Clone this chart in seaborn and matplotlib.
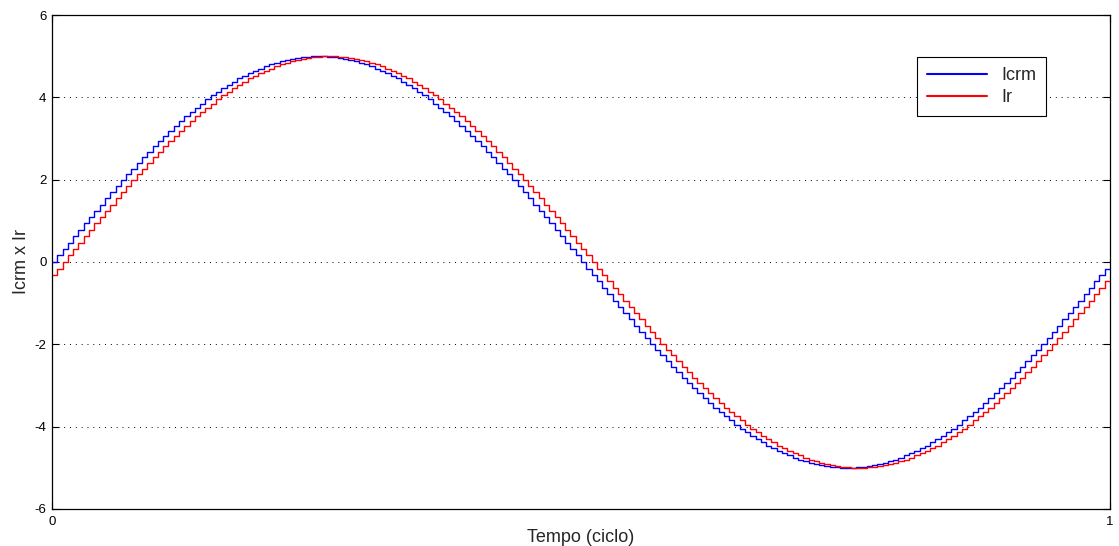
import matplotlib
matplotlib.use("Agg")
import matplotlib.pyplot as plt
import numpy as np
import pandas as pd
import seaborn as sns

# Sampled currents over one cycle (200 samples, zero-order hold)
icrm = [
    0.00, 0.16, 0.31, 0.47, 0.63, 0.78, 0.94, 1.09, 1.24, 1.39,
    1.55, 1.69, 1.84, 1.99, 2.13, 2.27, 2.41, 2.55, 2.68, 2.81,
    2.94, 3.06, 3.19, 3.31, 3.42, 3.54, 3.64, 3.75, 3.85, 3.95,
    4.05, 4.14, 4.22, 4.30, 4.38, 4.46, 4.52, 4.59, 4.65, 4.70,
    4.76, 4.80, 4.84, 4.88, 4.91, 4.94, 4.96, 4.98, 4.99, 5.00,
    5.00, 5.00, 4.99, 4.98, 4.96, 4.94, 4.91, 4.88, 4.84, 4.80,
    4.76, 4.70, 4.65, 4.59, 4.52, 4.46, 4.38, 4.30, 4.22, 4.14,
    4.05, 3.95, 3.85, 3.75, 3.64, 3.54, 3.42, 3.31, 3.19, 3.06,
    2.94, 2.81, 2.68, 2.55, 2.41, 2.27, 2.13, 1.99, 1.84, 1.69,
    1.55, 1.39, 1.24, 1.09, 0.94, 0.78, 0.63, 0.47, 0.31, 0.16,
    0.00, -0.16, -0.31, -0.47, -0.63, -0.78, -0.94, -1.09, -1.24, -1.39,
    -1.55, -1.69, -1.84, -1.99, -2.13, -2.27, -2.41, -2.55, -2.68, -2.81,
    -2.94, -3.06, -3.19, -3.31, -3.42, -3.54, -3.64, -3.75, -3.85, -3.95,
    -4.05, -4.14, -4.22, -4.30, -4.38, -4.46, -4.52, -4.59, -4.65, -4.70,
    -4.76, -4.80, -4.84, -4.88, -4.91, -4.94, -4.96, -4.98, -4.99, -5.00,
    -5.00, -5.00, -4.99, -4.98, -4.96, -4.94, -4.91, -4.88, -4.84, -4.80,
    -4.76, -4.70, -4.65, -4.59, -4.52, -4.46, -4.38, -4.30, -4.22, -4.14,
    -4.05, -3.95, -3.85, -3.75, -3.64, -3.54, -3.42, -3.31, -3.19, -3.06,
    -2.94, -2.81, -2.68, -2.55, -2.41, -2.27, -2.13, -1.99, -1.84, -1.69,
    -1.55, -1.39, -1.24, -1.09, -0.94, -0.78, -0.63, -0.47, -0.31, -0.16,
]

ir = [
    -0.31, -0.16, 0.00, 0.16, 0.31, 0.47, 0.63, 0.78, 0.94, 1.09,
    1.24, 1.39, 1.55, 1.69, 1.84, 1.99, 2.13, 2.27, 2.41, 2.55,
    2.68, 2.81, 2.94, 3.06, 3.19, 3.31, 3.42, 3.54, 3.64, 3.75,
    3.85, 3.95, 4.05, 4.14, 4.22, 4.30, 4.38, 4.46, 4.52, 4.59,
    4.65, 4.70, 4.76, 4.80, 4.84, 4.88, 4.91, 4.94, 4.96, 4.98,
    4.99, 5.00, 5.00, 5.00, 4.99, 4.98, 4.96, 4.94, 4.91, 4.88,
    4.84, 4.80, 4.76, 4.70, 4.65, 4.59, 4.52, 4.46, 4.38, 4.30,
    4.22, 4.14, 4.05, 3.95, 3.85, 3.75, 3.64, 3.54, 3.42, 3.31,
    3.19, 3.06, 2.94, 2.81, 2.68, 2.55, 2.41, 2.27, 2.13, 1.99,
    1.84, 1.69, 1.55, 1.39, 1.24, 1.09, 0.94, 0.78, 0.63, 0.47,
    0.31, 0.16, 0.00, -0.16, -0.31, -0.47, -0.63, -0.78, -0.94, -1.09,
    -1.24, -1.39, -1.55, -1.69, -1.84, -1.99, -2.13, -2.27, -2.41, -2.55,
    -2.68, -2.81, -2.94, -3.06, -3.19, -3.31, -3.42, -3.54, -3.64, -3.75,
    -3.85, -3.95, -4.05, -4.14, -4.22, -4.30, -4.38, -4.46, -4.52, -4.59,
    -4.65, -4.70, -4.76, -4.80, -4.84, -4.88, -4.91, -4.94, -4.96, -4.98,
    -4.99, -5.00, -5.00, -5.00, -4.99, -4.98, -4.96, -4.94, -4.91, -4.88,
    -4.84, -4.80, -4.76, -4.70, -4.65, -4.59, -4.52, -4.46, -4.38, -4.30,
    -4.22, -4.14, -4.05, -3.95, -3.85, -3.75, -3.64, -3.54, -3.42, -3.31,
    -3.19, -3.06, -2.94, -2.81, -2.68, -2.55, -2.41, -2.27, -2.13, -1.99,
    -1.84, -1.69, -1.55, -1.39, -1.24, -1.09, -0.94, -0.78, -0.63, -0.47,
]

series_names = ["Icrm", "Ir"]
series_colors = ["#0000ff", "#ff0000"]
y_ticks = [-6, -4, -2, 0, 2, 4, 6]
x_ticks = [0, 1]

sns.set_theme(style="white")
plt.rcParams["font.family"] = ["Liberation Sans", "DejaVu Sans"]

n = len(icrm)
# sample instants plus the closing edge of the final hold interval
t = np.arange(n + 1) / n
frames = []
for name, vals in zip(series_names, [icrm, ir]):
    frames.append(pd.DataFrame({"t": t, "v": list(vals) + [vals[-1]], "serie": name}))
df = pd.concat(frames, ignore_index=True)

fig = plt.figure(figsize=(11.19, 5.46), dpi=100)
ax = fig.add_axes([0.0465, 0.0678, 0.9455, 0.9047])

sns.lineplot(data=df, x="t", y="v", hue="serie", palette=series_colors,
             hue_order=series_names, drawstyle="steps-post", linewidth=1.0,
             ax=ax, estimator=None, sort=False)

ax.set_xlim(0, 1)
ax.set_ylim(-6, 6)
ax.set_xticks(x_ticks)
ax.set_yticks(y_ticks)
ax.set_xticklabels([str(v) for v in x_ticks])
ax.set_yticklabels([str(v) for v in y_ticks])
ax.tick_params(direction="in", length=5, width=0.8, labelsize=9.5,
               top=True, right=True, bottom=True, left=True, colors="black")
ax.tick_params(axis="x", pad=5)
ax.tick_params(axis="y", pad=4)
ax.grid(True, axis="y", color="black", linestyle=(0, (1, 5)), linewidth=0.7)
for s in ax.spines.values():
    s.set_color("black")
    s.set_linewidth(0.9)

ax.set_xlabel("Tempo (ciclo)", fontsize=13, labelpad=1)
ax.set_ylabel("Icrm x Ir", fontsize=13, labelpad=3)

leg = ax.legend(loc="upper right", bbox_to_anchor=(0.9395, 0.915),
                borderaxespad=0, fontsize=13, frameon=True, fancybox=False,
                framealpha=1, edgecolor="black", handlelength=3.3,
                borderpad=0.55, labelspacing=0.3, handletextpad=0.8)
leg.get_frame().set_linewidth(0.8)
for line in leg.get_lines():
    line.set_linewidth(1.5)

fig.savefig("out.png", dpi=100)
